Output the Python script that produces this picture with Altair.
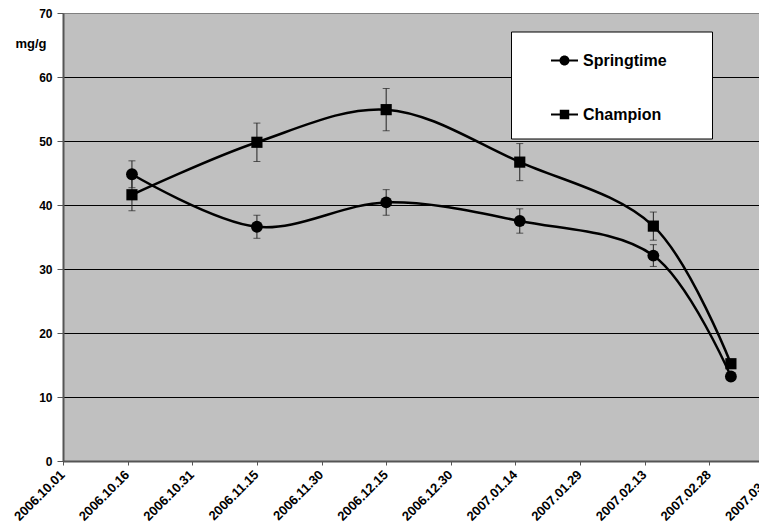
import altair as alt
import pandas as pd

# ---- data ----
dates = ["2006-10-17", "2006-11-15", "2006-12-15", "2007-01-15", "2007-02-15", "2007-03-05"]
springtime = [44.8, 36.6, 40.4, 37.5, 32.1, 13.2]
springtime_err = [2.1, 1.8, 2.0, 1.9, 1.7, 0.5]
champion = [41.6, 49.8, 54.9, 46.7, 36.7, 15.2]
champion_err = [2.5, 3.0, 3.3, 2.9, 2.2, 0.5]
series_names = ["Springtime", "Champion"]
tick_dates = [(2006, 10, 1), (2006, 10, 16), (2006, 10, 31), (2006, 11, 15), (2006, 11, 30),
              (2006, 12, 15), (2006, 12, 30), (2007, 1, 14), (2007, 1, 29), (2007, 2, 13),
              (2007, 2, 28), (2007, 3, 15)]
y_ticks = [0, 10, 20, 30, 40, 50, 60, 70]

rows = []
for name, vals, errs in [("Springtime", springtime, springtime_err),
                         ("Champion", champion, champion_err)]:
    for d, v, e in zip(dates, vals, errs):
        rows.append({"date": d, "series": name, "value": v, "lo": v - e, "hi": v + e})
df = pd.DataFrame(rows)

FONT = "Liberation Sans"

def dt(t):
    return alt.DateTime(year=t[0], month=t[1], date=t[2], utc=True)

x_enc = alt.X(
    "date:T",
    title=None,
    scale=alt.Scale(type="utc", domain=[dt(tick_dates[0]), dt(tick_dates[-1])], range=[0, 711]),
    axis=alt.Axis(
        values=[dt(t) for t in tick_dates],
        format="%Y.%m.%d",
        labelAngle=-45,
        labelFont=FONT,
        labelFontSize=13,
        labelFontWeight="bold",
        labelColor="black",
        labelOverlap=False,
        labelPadding=3,
        labelOffset=-5,
        tickSize=4,
        tickColor="#555555",
        domainColor="#555555",
        domainWidth=2,
        grid=False,
    ),
)

Y_TITLE = "mg/g"
y_axis = alt.Axis(
    values=y_ticks,
    title=Y_TITLE,
    titleAngle=0,
    titleAlign="left",
    titleBaseline="middle",
    titleX=-48,
    titleY=30,
    titleFont=FONT,
    titleFontSize=13,
    titleFontWeight="bold",
    titleColor="black",
    labelFont=FONT,
    labelFontSize=12,
    labelFontWeight="bold",
    labelColor="black",
    labelPadding=5,
    tickSize=6,
    tickColor="#555555",
    domainColor="#555555",
    domainWidth=2,
    grid=True,
    gridColor={"condition": {"test": "datum.value === 70", "value": "#808080"}, "value": "black"},
    gridWidth=1,
)

y_enc = alt.Y("value:Q", title=Y_TITLE, scale=alt.Scale(domain=[0, 70], nice=False), axis=y_axis)

base = alt.Chart(df)

lines = base.mark_line(interpolate="catmull-rom", color="black", strokeWidth=2.5).encode(
    x=x_enc, y=y_enc, detail="series:N"
)

errbars = base.mark_errorbar(
    ticks={"size": 7, "thickness": 1, "color": "#222222"},
    rule={"strokeWidth": 1, "color": "#222222"},
    color="#222222",
).encode(x=x_enc, y=alt.Y("lo:Q", title=Y_TITLE), y2="hi:Q")

pts_spring = base.transform_filter(alt.datum.series == series_names[0]).mark_point(
    filled=True, opacity=1, color="black", shape="circle", size=140
).encode(x=x_enc, y=y_enc)

pts_champ = base.transform_filter(alt.datum.series == series_names[1]).mark_point(
    filled=True, opacity=1, color="black", shape="square", size=125
).encode(x=x_enc, y=y_enc)

# legend glyphs: short line with marker, all filled sub-paths wound the same way
circ_path = ("M-1,-0.08H-0.35V0.08H-1Z"
             "M0.35,-0.08H1V0.08H0.35Z"
             "M0.37,0A0.37,0.37,0,1,1,-0.37,0A0.37,0.37,0,1,1,0.37,0Z")
sq_path = ("M-1,-0.08H-0.33V0.08H-1Z"
           "M0.33,-0.08H1V0.08H0.33Z"
           "M-0.35,-0.35H0.35V0.35H-0.35Z")

legend_layer = base.mark_point(filled=True, color="black", opacity=0).encode(
    x=x_enc,
    y=y_enc,
    shape=alt.Shape(
        "series:N",
        scale=alt.Scale(domain=series_names, range=[circ_path, sq_path]),
        legend=alt.Legend(
            title=None,
            orient="none",
            legendX=448,
            legendY=18.5,
            fillColor="white",
            strokeColor="black",
            padding=15.5,
            symbolOffset=24.5,
            symbolSize=729,
            symbolOpacity=1,
            symbolFillColor="black",
            symbolStrokeWidth=0,
            labelFont=FONT,
            labelFontSize=16,
            labelFontWeight="bold",
            labelColor="black",
            labelOffset=5,
            rowPadding=32,
            labelExpr="datum.label + '\u00a0\u00a0\u00a0\u00a0\u00a0\u00a0\u2009\u200b'",
        ),
    ),
)

chart = (
    alt.layer(lines, errbars, pts_spring, pts_champ, legend_layer)
    .properties(
        width=696,
        height=448,
        autosize=alt.AutoSizeParams(type="none"),
        padding={"left": 55, "top": 5, "right": 0, "bottom": 62},
        background="white",
    )
    .configure_view(fill="#C0C0C0", stroke="#808080", strokeWidth=1)
)

chart.save("out.html", embed_options={"renderer": "svg", "actions": False})
